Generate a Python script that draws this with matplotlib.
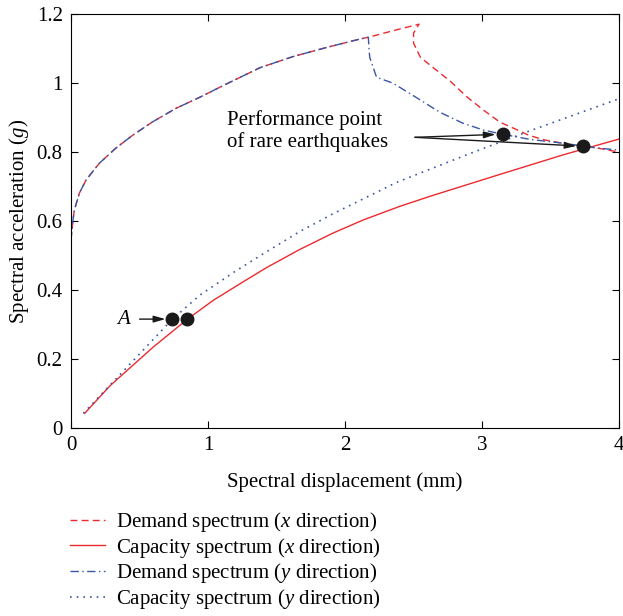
import matplotlib
matplotlib.use('Agg')
import matplotlib.pyplot as plt

plt.rcParams['font.family'] = 'Liberation Serif'
plt.rcParams['mathtext.fontset'] = 'custom'
plt.rcParams['mathtext.rm'] = 'Liberation Serif'
plt.rcParams['mathtext.it'] = 'Liberation Serif:italic'

# shared rising branch of both demand spectra
branch_x = [0.0, 0.003, 0.012, 0.024, 0.061, 0.109, 0.207, 0.328, 0.45, 0.596, 0.766,
            0.934, 1.131, 1.38, 1.62, 1.87, 2.11, 2.17]
branch_y = [0.545, 0.56, 0.595, 0.632, 0.681, 0.719, 0.768, 0.812, 0.849, 0.888, 0.927,
            0.958, 0.997, 1.045, 1.077, 1.104, 1.128, 1.133]

demand_x_x = branch_x + [2.35, 2.54, 2.50, 2.50, 2.55, 2.64, 2.77, 2.89, 3.01, 3.13, 3.26,
                         3.34, 3.45, 3.64, 3.84, 4.0]
demand_x_y = branch_y + [1.152, 1.171, 1.145, 1.116, 1.075, 1.046, 1.005, 0.96, 0.922, 0.887,
                         0.864, 0.849, 0.836, 0.822, 0.812, 0.80]

demand_y_x = branch_x + [2.175, 2.18, 2.23, 2.35, 2.53, 2.69, 2.86, 3.01, 3.15, 3.35, 3.59,
                         3.84, 4.0]
demand_y_y = branch_y + [1.10, 1.075, 1.017, 1.0, 0.956, 0.916, 0.884, 0.864, 0.852, 0.837,
                         0.826, 0.812, 0.806]

cap_x_x = [0.10, 0.285, 0.60, 0.85, 1.04, 1.26, 1.43, 1.67, 1.91, 2.13, 2.40, 2.62, 3.11,
           3.59, 4.0]
cap_x_y = [0.043, 0.123, 0.235, 0.316, 0.371, 0.425, 0.466, 0.518, 0.565, 0.603, 0.643,
           0.672, 0.733, 0.792, 0.838]

cap_y_x = [0.09, 0.25, 0.41, 0.74, 0.942, 1.20, 1.43, 1.67, 1.91, 2.38, 2.86, 3.35, 3.84, 4.0]
cap_y_y = [0.043, 0.110, 0.177, 0.316, 0.386, 0.455, 0.512, 0.570, 0.621, 0.713, 0.788,
           0.862, 0.932, 0.955]

perf_x = [3.15, 3.74]
perf_y = [0.852, 0.817]
pt_a_x = [0.74, 0.85]
pt_a_y = [0.316, 0.316]

red = '#ec2a2e'
blue = '#3a56a6'

fig = plt.figure(figsize=(6.23, 6.16), dpi=100)
ax = fig.add_axes([0.114, 0.305, 0.8797, 0.672])

ax.plot(demand_x_x, demand_x_y, color=red, ls=(0, (5, 3)), lw=1.0,
        label=r'Demand spectrum ($\mathit{x}$ direction)')
ax.plot(cap_x_x, cap_x_y, color=red, ls='-', lw=1.0,
        label=r'Capacity spectrum ($\mathit{x}$ direction)')
ax.plot(demand_y_x, demand_y_y, color=blue, ls=(0, (6, 2.5, 1, 2.5)), lw=1.0,
        label=r'Demand spectrum ($\mathit{y}$ direction)')
ax.plot(cap_y_x, cap_y_y, color=blue, ls=(0, (1, 3)), lw=1.2,
        label=r'Capacity spectrum ($\mathit{y}$ direction)')

ax.plot(perf_x, perf_y, 'o', color='#1a1a1a', ms=9, zorder=5)
ax.plot(pt_a_x, pt_a_y, 'o', color='#1a1a1a', ms=9, zorder=5)

arrow = dict(arrowstyle='-|>,head_length=0.7,head_width=0.2', color='#1a1a1a', lw=1.0,
             shrinkA=0, shrinkB=5)
for px, py in zip(perf_x, perf_y):
    ax.annotate('', xy=(px, py), xytext=(2.51, 0.843), arrowprops=arrow)
ax.annotate('', xy=(pt_a_x[0], pt_a_y[0]), xytext=(0.50, 0.316), arrowprops=arrow)
ax.text(0.38, 0.316, 'A', style='italic', fontsize=15, ha='center', va='center')
ax.text(1.14, 0.862, 'Performance point\nof rare earthquakes', fontsize=15,
        ha='left', va='center', linespacing=1.15)

ax.set_xlim(0, 4)
ax.set_ylim(0, 1.2)
ax.set_xticks([0, 1, 2, 3, 4])
ax.set_xticklabels(['0', '1', '2', '3', '4'])
ax.set_yticks([0, 0.2, 0.4, 0.6, 0.8, 1.0, 1.2])
ax.set_yticklabels(['0', '0.2', '0.4', '0.6', '0.8', '1', '1.2'])
ax.tick_params(direction='in', top=True, right=True, labelsize=15, length=5, pad=6)
ax.set_xlabel('Spectral displacement (mm)', fontsize=15, labelpad=12)
ax.set_ylabel(r'Spectral acceleration ($\mathit{g}$)', fontsize=15, labelpad=4)

fig.legend(loc='upper left', bbox_to_anchor=(0.112, 0.172), frameon=False,
           fontsize=15, handlelength=1.7, handletextpad=0.5, labelspacing=0.08,
           borderaxespad=0, borderpad=0)

fig.savefig('out.png', dpi=100)
